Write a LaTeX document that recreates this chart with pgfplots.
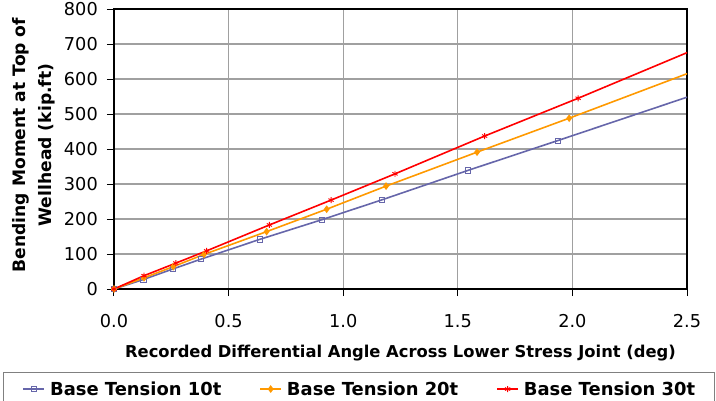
\documentclass[border=0pt]{standalone}
\usepackage{fontspec}
\setmainfont{DejaVu Sans}
\usepackage{pgfplots}
\pgfplotsset{compat=1.18}
\definecolor{c10}{RGB}{102,102,170}
\definecolor{c20}{RGB}{255,153,0}
\definecolor{c30}{RGB}{255,0,0}
\definecolor{gridc}{RGB}{160,160,160}
\begin{document}
\begin{tikzpicture}
\begin{axis}[
  at={(0,0)}, anchor=south west,
  scale only axis, width=573bp, height=280bp,
  xmin=0, xmax=2.5, ymin=0, ymax=800,
  xtick={0,0.5,1,1.5,2,2.5},
  ytick={0,100,...,800},
  /pgf/number format/assume math mode=true,
  xticklabel style={/pgf/number format/fixed, /pgf/number format/fixed zerofill, /pgf/number format/precision=1, inner sep=0pt, yshift=-18bp},
  yticklabel style={/pgf/number format/fixed, /pgf/number format/precision=0, inner sep=0pt, xshift=-9bp},
  tick label style={font=\fontsize{17.8}{20}\selectfont},
  tick align=outside, tick pos=left,
  major tick length=7bp,
  tick style={black, line width=1bp},
  grid=major,
  grid style={gridc, line width=1.3bp},
  axis line style={black, line width=1.3bp},
  xlabel={Recorded Differential Angle Across Lower Stress Joint (deg)},
  xlabel style={at={(axis description cs:0.5,0)}, anchor=base, inner sep=0pt, yshift=-68bp,
    font=\fontsize{16.4}{20}\selectfont\bfseries},
  ylabel={Bending Moment at Top of\\Wellhead (kip.ft)},
  ylabel style={at={(axis description cs:0,0.5)}, anchor=north, inner sep=0pt, yshift=102bp, xshift=4bp,
    align=center, font=\fontsize{17.2}{26}\selectfont\bfseries},
  legend columns=-1,
  legend image code/.code={\draw[mark repeat=2,mark phase=2,#1] plot coordinates {(0bp,0bp) (10.5bp,0bp) (21bp,0bp)};},
  legend style={at={(axis description cs:-0.19372,-0.29643)}, anchor=north west,
    draw=gray, line width=1bp, inner xsep=19bp, inner ysep=9bp,
    font=\fontsize{18}{20}\selectfont\bfseries,
    nodes={inner sep=0pt},
    /tikz/every odd column/.append style={column sep=5bp},
    /tikz/every even column/.append style={column sep=38bp}},
]
\addplot[c10, line width=1.6bp, mark=square, mark size=2.6bp, mark options={solid, line width=0.8bp}]
  coordinates {(0,0) (0.128,27) (0.256,57) (0.378,85) (0.637,142) (0.907,198) (1.17,255) (1.545,339) (1.936,424) (2.9,636)};
\addlegendentry{Base Tension 10t}
\addplot[c20, line width=1.6bp, mark=diamond*, mark size=2.6bp, mark options={solid}]
  coordinates {(0,0) (0.131,32) (0.259,64) (0.393,99) (0.666,164) (0.928,228) (1.187,294) (1.584,391) (1.986,488) (2.9,714)};
\addlegendentry{Base Tension 20t}
\addplot[c30, line width=1.6bp, mark=asterisk, mark size=3bp, mark options={solid, line width=0.9bp}]
  coordinates {(0,0) (0.131,38) (0.27,74) (0.404,109) (0.678,183) (0.947,254) (1.226,329) (1.617,437) (2.025,545) (2.9,785)};
\addlegendentry{Base Tension 30t}
\end{axis}
\pgfresetboundingbox
\path[use as bounding box] (-114bp,-112bp) rectangle (602bp,289bp);
\end{tikzpicture}
\end{document}
